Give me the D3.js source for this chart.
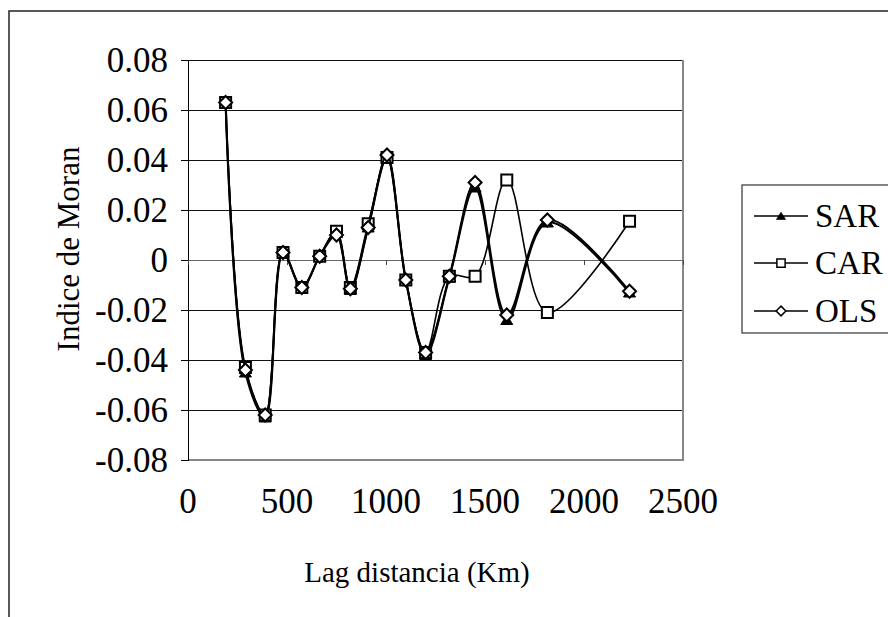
<!DOCTYPE html>
<html>
<head>
<meta charset="utf-8">
<script src="https://cdn.jsdelivr.net/npm/d3@7"></script>
<style>
    html, body { margin: 0; padding: 0; background: #fff; }
</style>
</head>
<body>
<div id="chart"></div>
<script>
/*
 * Chart data.
 */
var lagDistances = [190, 290, 390, 480, 575, 665, 750, 820, 910, 1005, 1100, 1200, 1320, 1450, 1610, 1815, 2230];
var sarValues = [0.063, -0.045, -0.063, 0.003, -0.011, 0.0015, 0.011, -0.012, 0.013, 0.041, -0.008, -0.038, -0.007, 0.029, -0.024, 0.015, -0.013];
var carValues = [0.063, -0.043, -0.062, 0.003, -0.011, 0.0015, 0.0115, -0.011, 0.0145, 0.041, -0.008, -0.037, -0.0065, -0.0065, 0.032, -0.021, 0.0155];
var olsValues = [0.063, -0.044, -0.062, 0.003, -0.011, 0.0015, 0.010, -0.0115, 0.013, 0.042, -0.008, -0.037, -0.0065, 0.031, -0.022, 0.016, -0.0125];
var seriesNames = ['SAR', 'CAR', 'OLS'];
var xTicks = [0, 500, 1000, 1500, 2000, 2500];
var yTicks = [-0.08, -0.06, -0.04, -0.02, 0, 0.02, 0.04, 0.06, 0.08];
var xTitle = 'Lag distancia (Km)';
var yTitle = 'Indice de Moran';

var series = [
    { name: seriesNames[0], values: sarValues, marker: 'triangle', width: 2.2 },
    { name: seriesNames[1], values: carValues, marker: 'square', width: 1.6 },
    { name: seriesNames[2], values: olsValues, marker: 'diamond', width: 2 }
];

var width = 888, height = 617;
var plot = { left: 188, top: 60, right: 683, bottom: 460 };
var serif = "'Liberation Serif'";

var svg = d3.select('#chart').append('svg')
    .attr('width', width)
    .attr('height', height);

/*
 * Outer chart frame (runs off the right and bottom edges).
 */
svg.append('rect')
    .attr('x', 9).attr('y', 11)
    .attr('width', width + 20).attr('height', height + 20)
    .attr('fill', '#fff')
    .attr('stroke', '#222')
    .attr('stroke-width', 1.5);

var x = d3.scaleLinear().domain([0, 2500]).range([plot.left, plot.right]);
var y = d3.scaleLinear().domain([-0.08, 0.08]).range([plot.bottom, plot.top]);

/*
 * Horizontal gridlines.
 */
svg.append('g')
    .selectAll('line')
    .data(yTicks)
    .join('line')
    .attr('x1', plot.left).attr('x2', plot.right)
    .attr('y1', d => y(d)).attr('y2', d => y(d))
    .attr('stroke', d => (d === 0 ? '#666' : '#111'))
    .attr('stroke-width', 1)
    .attr('shape-rendering', 'crispEdges');

/*
 * Plot area border on the right and bottom.
 */
svg.append('path')
    .attr('d', 'M' + plot.right + ',' + plot.top + 'V' + plot.bottom + 'H' + plot.left)
    .attr('fill', 'none')
    .attr('stroke', '#888')
    .attr('stroke-width', 1.5)
    .attr('shape-rendering', 'crispEdges');

/*
 * Y axis with ticks to the left.
 */
var yAxis = svg.append('g')
    .attr('transform', 'translate(' + plot.left + ',0)')
    .call(d3.axisLeft(y).tickValues(yTicks).tickSize(7).tickSizeOuter(0)
        .tickFormat(d => (d === 0 ? '0' : d3.format('.2f')(d).replace(/\u2212/g, '-'))));
yAxis.select('.domain').attr('stroke', '#000').attr('shape-rendering', 'crispEdges');
yAxis.selectAll('.tick line').attr('stroke', '#000').attr('shape-rendering', 'crispEdges');
yAxis.selectAll('.tick text')
    .attr('x', -20)
    .attr('dy', '0.33em')
    .style('font-family', serif)
    .style('font-size', '35px')
    .attr('fill', '#000');

/*
 * X axis sits on the zero line, tick marks below it.
 */
var xAxis = svg.append('g')
    .attr('transform', 'translate(0,' + y(0) + ')')
    .call(d3.axisBottom(x).tickValues(xTicks).tickSize(5).tickSizeOuter(0).tickFormat(''));
xAxis.select('.domain').remove();
xAxis.selectAll('.tick line').attr('stroke', '#444').attr('shape-rendering', 'crispEdges');

/*
 * X tick labels under the plot area.
 */
svg.append('g')
    .selectAll('text')
    .data(xTicks)
    .join('text')
    .attr('x', d => x(d))
    .attr('y', 513)
    .attr('text-anchor', 'middle')
    .style('font-family', serif)
    .style('font-size', '35px')
    .text(d => d);

/*
 * Axis titles.
 */
svg.append('text')
    .attr('x', 417).attr('y', 582)
    .attr('text-anchor', 'middle')
    .style('font-family', serif)
    .style('font-size', '29px')
    .text(xTitle);

svg.append('text')
    .attr('transform', 'translate(79,249) rotate(-90)')
    .attr('text-anchor', 'middle')
    .style('font-family', serif)
    .style('font-size', '31px')
    .text(yTitle);

/*
 * Marker symbols, Excel style.
 */
var markerPaths = {
    triangle: 'M0,-5L6,4.5L-6,4.5Z',
    square: 'M-5.5,-5.5H5.5V5.5H-5.5Z',
    diamond: 'M0,-6.5L6.5,0L0,6.5L-6.5,0Z'
};

function drawMarker(sel, kind) {
    sel.attr('d', markerPaths[kind])
        .attr('fill', kind === 'triangle' ? '#000' : '#fff')
        .attr('stroke', '#000')
        .attr('stroke-width', kind === 'triangle' ? 1 : 2);
}

var line = d3.line()
    .x(d => x(d.x))
    .y(d => y(d.y))
    .curve(d3.curveCatmullRom.alpha(0.5));

/*
 * Series: line first, then markers, in order.
 */
series.forEach(function(s) {
    var pts = lagDistances.map((d, i) => ({ x: d, y: s.values[i] }));
    var g = svg.append('g');
    g.append('path')
        .attr('d', line(pts))
        .attr('fill', 'none')
        .attr('stroke', '#000')
        .attr('stroke-width', s.width);
    g.selectAll('path.marker')
        .data(pts)
        .join('path')
        .attr('class', 'marker')
        .attr('transform', d => 'translate(' + x(d.x) + ',' + y(d.y) + ')')
        .call(drawMarker, s.marker);
});

/*
 * Legend.
 */
var legend = svg.append('g');
legend.append('rect')
    .attr('x', 742).attr('y', 185)
    .attr('width', 160).attr('height', 148)
    .attr('fill', '#fff')
    .attr('stroke', '#333')
    .attr('stroke-width', 1.2);

var legendRows = [216, 263, 311];
series.forEach(function(s, i) {
    var ly = legendRows[i];
    legend.append('line')
        .attr('x1', 754).attr('x2', 808)
        .attr('y1', ly).attr('y2', ly)
        .attr('stroke', '#000')
        .attr('stroke-width', 1.5);
    legend.append('path')
        .attr('transform', 'translate(781,' + ly + ') scale(0.75)')
        .call(drawMarker, s.marker);
    legend.append('text')
        .attr('x', 815).attr('y', ly + 11)
        .style('font-family', serif)
        .style('font-size', '33px')
        .text(s.name);
});
</script>
</body>
</html>
